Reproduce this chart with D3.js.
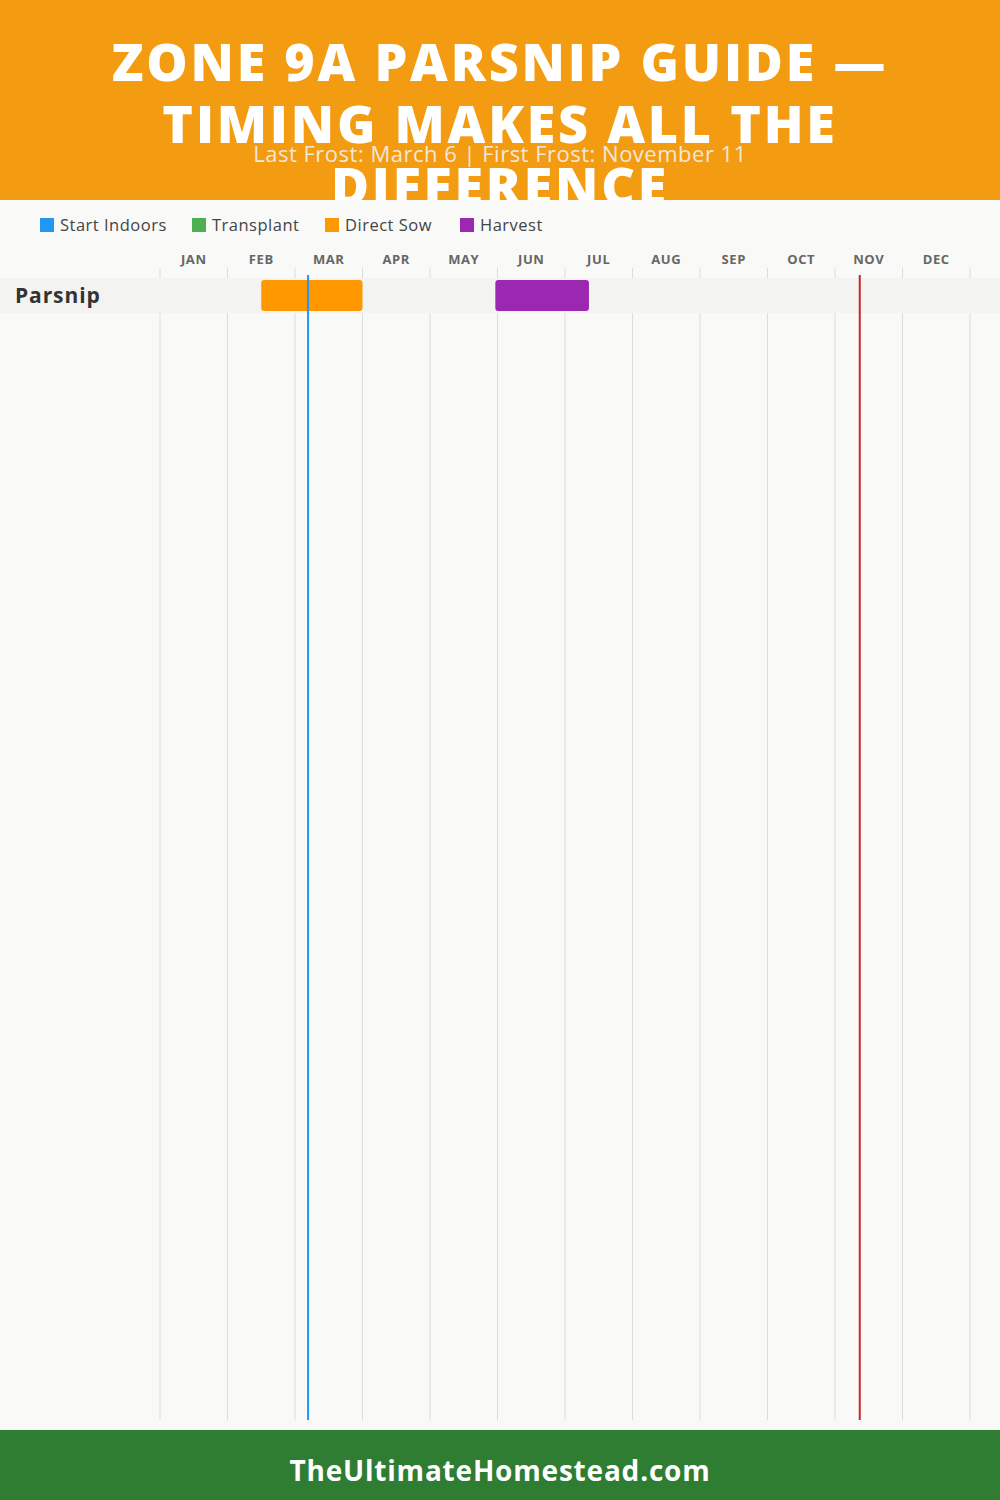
<!DOCTYPE html>
<html>
<head>
<meta charset="utf-8">
<script src="https://cdn.jsdelivr.net/npm/d3@7"></script>
<style>
  html, body { margin: 0; padding: 0; background: #f9f9f7; }
  svg { display: block; }
</style>
</head>
<body>
<svg id="chart" width="1000" height="1500"></svg>
<script>
// ---- data ----
const titleLines = ["ZONE 9A PARSNIP GUIDE —", "TIMING MAKES ALL THE", "DIFFERENCE"];
const subtitle = "Last Frost: March 6 | First Frost: November 11";
const footerText = "TheUltimateHomestead.com";
const months = ["JAN","FEB","MAR","APR","MAY","JUN","JUL","AUG","SEP","OCT","NOV","DEC"];
const daysInMonth = [31,28,31,30,31,30,31,31,30,31,30,31];
const legendNames = ["Start Indoors","Transplant","Direct Sow","Harvest"];
const legendColors = ["#2196F3","#4CAF50","#FF9800","#9C27B0"];
const crops = ["Parsnip"];
const barCrop  = ["Parsnip","Parsnip"];
const barStage = ["Direct Sow","Harvest"];
const barStart = [[2,14],[5,30]];   // [month, day]
const barEnd   = [[4,0],[7,11]];
const lastFrost = [3,6];
const firstFrost = [11,11];

// ---- helpers ----
const W = 1000, H = 1500;
const svg = d3.select("#chart");
const FONT = "'Open Sans', 'DejaVu Sans', sans-serif";
const toMonth = ([m, d]) => (m - 1) + d / daysInMonth[m - 1];

const x = d3.scaleLinear().domain([0, 12]).range([160, 970]);
const y = d3.scaleBand().domain(crops).range([278, 278 + 35 * crops.length]);
const color = d3.scaleOrdinal().domain(legendNames).range(legendColors);

// ---- header ----
svg.append("rect").attr("x",0).attr("y",0).attr("width",W).attr("height",200).attr("fill","#F39C12");
const title = svg.append("g");
titleLines.forEach((t, i) => {
  title.append("text")
    .attr("x", W/2).attr("y", 81 + i*62)
    .attr("text-anchor","middle")
    .attr("fill","#fff")
    .attr("font-family", FONT)
    .attr("font-weight", 800)
    .attr("font-size", 52)
    .attr("letter-spacing", 2.8)
    .text(t);
});
svg.append("text")
  .attr("x", W/2).attr("y", 162)
  .attr("text-anchor","middle")
  .attr("fill","#f2f2f2").attr("fill-opacity",0.9)
  .attr("font-family", FONT).attr("font-weight", 400)
  .attr("font-size", 22)
  .attr("letter-spacing", 0.5)
  .text(subtitle);

// ---- chart background ----
svg.append("rect").attr("x",0).attr("y",200).attr("width",W).attr("height",1230).attr("fill","#f9f9f7");

// legend
const legX = [40, 192, 325, 460];
const leg = svg.append("g");
legendNames.forEach((n, i) => {
  leg.append("rect").attr("x", legX[i]).attr("y", 218).attr("width",14).attr("height",14).attr("fill", color(n));
  leg.append("text").attr("x", legX[i] + 20).attr("y", 231)
    .attr("fill","#444").attr("font-family", FONT).attr("font-size", 16.5)
    .attr("letter-spacing", 0.5).text(n);
});

// month labels
svg.append("g").selectAll("text").data(months).join("text")
  .attr("x", (d,i) => x(i + 0.5)).attr("y", 264)
  .attr("text-anchor","middle").attr("fill","#666")
  .attr("font-family", FONT).attr("font-weight", 700).attr("font-size", 13)
  .attr("letter-spacing", 0.6)
  .text(d => d);

// gridlines
svg.append("g").selectAll("line").data(d3.range(13)).join("line")
  .attr("x1", d => x(d)).attr("x2", d => x(d))
  .attr("y1", 268).attr("y2", 1420)
  .attr("stroke","#dcdcdc").attr("stroke-width",1);

// row bands
svg.append("g").selectAll("rect").data(crops).join("rect")
  .attr("x",0).attr("width",W)
  .attr("y", d => y(d)).attr("height", y.bandwidth())
  .attr("fill","#f3f3f2");

svg.append("g").selectAll("text").data(crops).join("text")
  .attr("x", 15).attr("y", d => y(d) + y.bandwidth()/2 + 7)
  .attr("fill","#333").attr("font-family", FONT).attr("font-weight",700).attr("font-size",21)
  .attr("letter-spacing", 0.9)
  .text(d => d);

// bars
svg.append("g").selectAll("rect").data(barStage.map((s,i)=>i)).join("rect")
  .attr("x", i => x(toMonth(barStart[i])))
  .attr("width", i => x(toMonth(barEnd[i])) - x(toMonth(barStart[i])))
  .attr("y", i => y(barCrop[i]) + 2)
  .attr("height", y.bandwidth() - 4)
  .attr("rx", 3)
  .attr("fill", i => color(barStage[i]));

// frost lines
svg.append("line")
  .attr("x1", x(toMonth(lastFrost))).attr("x2", x(toMonth(lastFrost)))
  .attr("y1", 275).attr("y2", 1420)
  .attr("stroke","#2196F3").attr("stroke-width",2);
svg.append("line")
  .attr("x1", x(toMonth(firstFrost))).attr("x2", x(toMonth(firstFrost)))
  .attr("y1", 275).attr("y2", 1420)
  .attr("stroke","#C62828").attr("stroke-width",2);

// footer
svg.append("rect").attr("x",0).attr("y",1430).attr("width",W).attr("height",70).attr("fill","#2E7D32");
svg.append("text").attr("x", W/2).attr("y", 1481)
  .attr("text-anchor","middle").attr("fill","#fff")
  .attr("font-family", FONT).attr("font-weight",700).attr("font-size",28)
  .attr("letter-spacing", 0.8)
  .text(footerText);
</script>
</body>
</html>
